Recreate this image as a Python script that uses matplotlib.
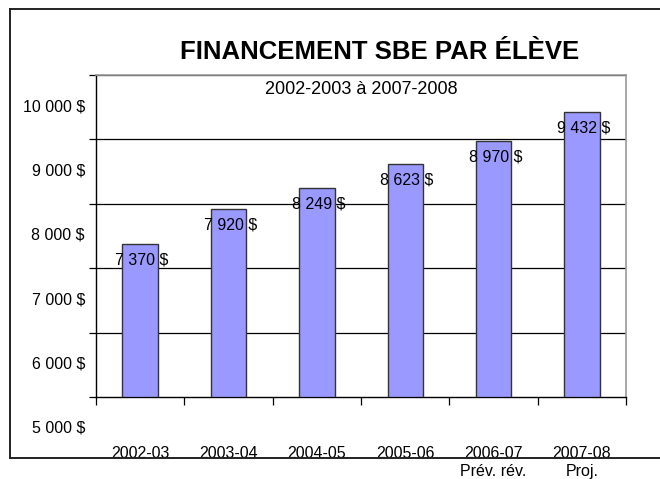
import matplotlib.pyplot as plt
import matplotlib.transforms as mtransforms
from matplotlib.lines import Line2D

plt.rcParams['font.family'] = ['Liberation Sans', 'DejaVu Sans']

# data
annees = ["2002-03", "2003-04", "2004-05", "2005-06", "2006-07\nPrév. rév.", "2007-08\nProj."]
financement = [7370, 7920, 8249, 8623, 8970, 9432]
y_ticks = [5000, 6000, 7000, 8000, 9000, 10000]


def fmt(v):
    return f"{v:,}".replace(",", " ") + " $"


fig = plt.figure(figsize=(6.6, 4.79), dpi=100)
ax = fig.add_axes([96 / 660, 82 / 479, 530 / 660, 322 / 479])

x = list(range(len(annees)))
ax.bar(x, [v - 5000 for v in financement], bottom=5000, width=0.4,
       color='#9999FF', edgecolor='#333333', linewidth=1.0, zorder=3)

ax.set_xlim(-0.5, len(annees) - 0.5)
ax.set_ylim(5000, 10000)

# gridlines
for t in y_ticks[1:]:
    ax.axhline(t, color='black', linewidth=0.9, zorder=1)

ax.set_yticks(y_ticks)
ax.set_yticklabels([fmt(t) for t in y_ticks], fontsize=11.5)
ax.tick_params(axis='y', length=5, width=0.9, pad=3, direction='out')
# labels sit half a step below their gridline, as in the original
shift = mtransforms.ScaledTranslation(0, -30 / 100, fig.dpi_scale_trans)
for lab in ax.get_yticklabels():
    lab.set_transform(lab.get_transform() + shift)

ax.set_xticks(x)
ax.set_xticklabels(annees, fontsize=11.5, linespacing=1.25)
ax.tick_params(axis='x', length=0, pad=35)
ax.set_xticks([i - 0.5 for i in range(len(annees) + 1)], minor=True)
ax.tick_params(axis='x', which='minor', length=6, width=0.9, direction='out')

for s in ['left', 'bottom']:
    ax.spines[s].set_color('black')
    ax.spines[s].set_linewidth(1.0)
for s in ['top', 'right']:
    ax.spines[s].set_color('#999999')
    ax.spines[s].set_linewidth(1.2)

for i, v in enumerate(financement):
    ax.annotate(fmt(v), (i, v), xytext=(2, -16), textcoords='offset pixels',
                ha='center', va='center', fontsize=11.5, zorder=4)

ax.text(0.5, 0.955, "2002-2003 à 2007-2008", transform=ax.transAxes,
        ha='center', va='center', fontsize=13)
fig.text(380 / 660, 1 - 52 / 479, "FINANCEMENT SBE PAR ÉLÈVE",
         ha='center', va='center', fontsize=18.5, fontweight='bold')

# outer chart frame
fx0, fy_top, fy_bot = 10 / 660, 1 - 9 / 479, 1 - 458 / 479
for xs, ys in [([fx0, fx0], [fy_bot, fy_top]),
               ([fx0, 1.0], [fy_top, fy_top]),
               ([fx0, 1.0], [fy_bot, fy_bot])]:
    fig.add_artist(Line2D(xs, ys, transform=fig.transFigure,
                          color='#222222', linewidth=1.4))

fig.savefig("out.png", dpi=100)
